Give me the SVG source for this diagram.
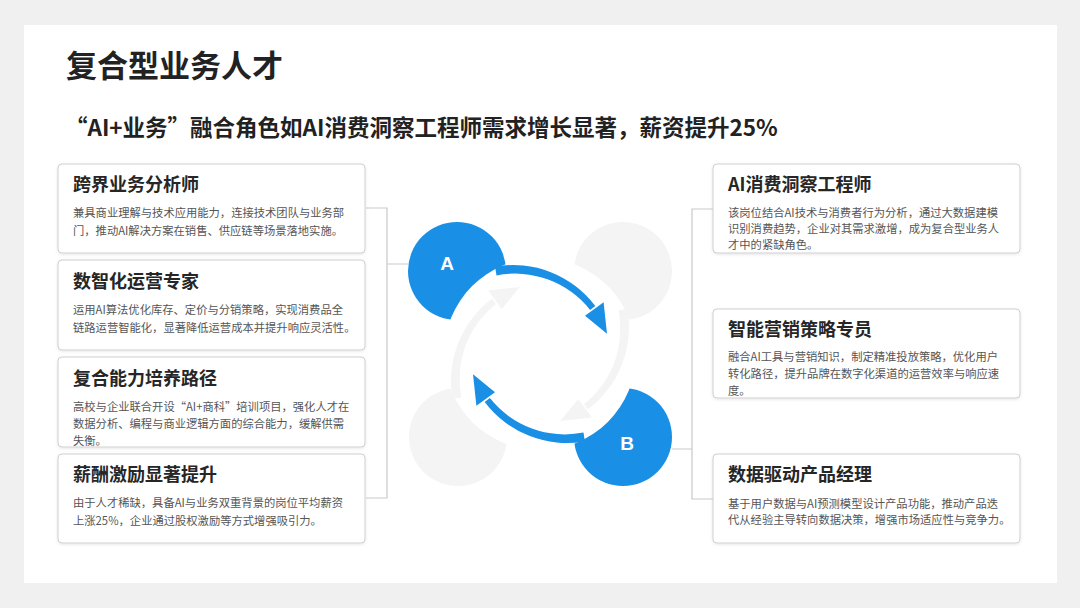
<svg xmlns="http://www.w3.org/2000/svg" width="1080" height="608" viewBox="0 0 1080 608">
<defs>
<style>
.t{font-family:"Noto Sans CJK SC","Liberation Sans",sans-serif;}
.h1{font-size:31px;font-weight:700;fill:#222;}
.h2{font-size:22.5px;font-weight:700;fill:#222;}
.bt{font-size:18px;font-weight:700;fill:#262626;}
.bd{font-size:11.3px;fill:#555;}
.box{fill:#fff;stroke:#cfcfcf;stroke-width:1;filter:url(#sh);}
.con{fill:none;stroke:#c9c9c9;stroke-width:1.2;}
.lt{font-size:19px;font-weight:700;fill:#fff;font-family:"Liberation Sans","Noto Sans",sans-serif;}
</style>
<filter id="sh" x="-5%" y="-10%" width="110%" height="125%">
<feDropShadow dx="0" dy="1" stdDeviation="1.5" flood-color="#000" flood-opacity="0.10"/>
</filter>
<g id="arc">
<path d="M495.1 266.6 A103 103 0 0 1 595.3 306 L590.1 309.9 A96 96 0 0 0 496.5 275.4 Z"/>
<polygon points="585,315.7 603.6,302.2 607,333.8"/>
</g>
</defs>
<rect width="1080" height="608" fill="#f0f0f0"/>
<rect x="24" y="25" width="1033" height="558" fill="#fff"/>
<text class="t h1" x="66" y="77">复合型业务人才</text>
<text class="t h2" x="65" y="136">“AI+业务”融合角色如AI消费洞察工程师需求增长显著，薪资提升25%</text>

<g id="connectors">
<path class="con" d="M366 208 H387 V498 H366 M387 264 H408"/>
<path class="con" d="M713 209 H692 V499 H713 M692 449 H672"/>
</g>

<g id="cycle">
<circle cx="623" cy="271" r="49" fill="#f4f4f4"/>
<circle cx="458" cy="437" r="49" fill="#f4f4f4"/>
<circle cx="457" cy="271" r="49" fill="#1a8fe6"/>
<circle cx="623" cy="437" r="49" fill="#1a8fe6"/>
<circle cx="540" cy="354" r="96" fill="#fff"/>
<use href="#arc" transform="rotate(-90 540 354)" fill="#f4f4f4"/>
<use href="#arc" transform="rotate(90 540 354)" fill="#f4f4f4"/>
<use href="#arc" fill="#1a8fe6"/>
<use href="#arc" transform="rotate(180 540 354)" fill="#1a8fe6"/>
</g>
<g id="node-A"><text class="lt" x="447" y="270" text-anchor="middle">A</text></g>
<g id="node-B"><text class="lt" x="627" y="450" text-anchor="middle">B</text></g>

<g id="box-l1">
<rect class="box" x="58" y="164" width="307" height="89" rx="4"/>
<text class="t bt" x="73" y="191">跨界业务分析师</text>
<text class="t bd" x="73" y="217">兼具商业理解与技术应用能力，连接技术团队与业务部</text>
<text class="t bd" x="73" y="235">门，推动AI解决方案在销售、供应链等场景落地实施。</text>
</g>
<g id="box-l2">
<rect class="box" x="58" y="260" width="307" height="90" rx="4"/>
<text class="t bt" x="73" y="288">数智化运营专家</text>
<text class="t bd" x="73" y="314">运用AI算法优化库存、定价与分销策略，实现消费品全</text>
<text class="t bd" x="73" y="332">链路运营智能化，显著降低运营成本并提升响应灵活性。</text>
</g>
<g id="box-l3">
<rect class="box" x="58" y="357" width="307" height="90" rx="4"/>
<text class="t bt" x="73" y="385">复合能力培养路径</text>
<text class="t bd" x="73" y="411">高校与企业联合开设“AI+商科”培训项目，强化人才在</text>
<text class="t bd" x="73" y="428">数据分析、编程与商业逻辑方面的综合能力，缓解供需</text>
<text class="t bd" x="73" y="445">失衡。</text>
</g>
<g id="box-l4">
<rect class="box" x="58" y="454" width="307" height="89" rx="4"/>
<text class="t bt" x="73" y="481">薪酬激励显著提升</text>
<text class="t bd" x="73" y="507">由于人才稀缺，具备AI与业务双重背景的岗位平均薪资</text>
<text class="t bd" x="73" y="525">上涨25%，企业通过股权激励等方式增强吸引力。</text>
</g>

<g id="box-r1">
<rect class="box" x="713" y="164" width="307" height="89" rx="4"/>
<text class="t bt" x="728" y="191">AI消费洞察工程师</text>
<text class="t bd" x="728" y="217">该岗位结合AI技术与消费者行为分析，通过大数据建模</text>
<text class="t bd" x="728" y="233">识别消费趋势，企业对其需求激增，成为复合型业务人</text>
<text class="t bd" x="728" y="249">才中的紧缺角色。</text>
</g>
<g id="box-r2">
<rect class="box" x="713" y="309" width="307" height="89" rx="4"/>
<text class="t bt" x="728" y="336">智能营销策略专员</text>
<text class="t bd" x="728" y="361">融合AI工具与营销知识，制定精准投放策略，优化用户</text>
<text class="t bd" x="728" y="378">转化路径，提升品牌在数字化渠道的运营效率与响应速</text>
<text class="t bd" x="728" y="395">度。</text>
</g>
<g id="box-r3">
<rect class="box" x="713" y="454" width="307" height="89" rx="4"/>
<text class="t bt" x="728" y="481">数据驱动产品经理</text>
<text class="t bd" x="728" y="508">基于用户数据与AI预测模型设计产品功能，推动产品迭</text>
<text class="t bd" x="728" y="524">代从经验主导转向数据决策，增强市场适应性与竞争力。</text>
</g>
</svg>
